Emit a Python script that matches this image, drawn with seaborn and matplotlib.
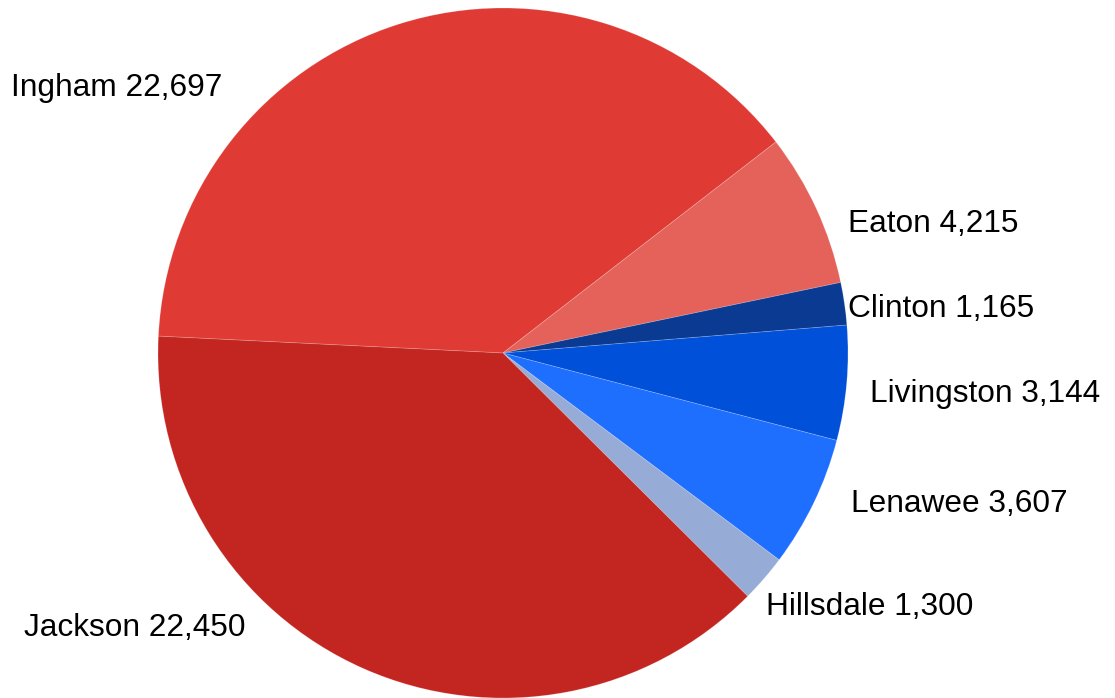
import matplotlib
matplotlib.use("Agg")
import matplotlib.pyplot as plt
import seaborn as sns

counties = ["Ingham", "Eaton", "Clinton", "Livingston", "Lenawee", "Hillsdale", "Jackson"]
values = [22697, 4215, 1165, 3144, 3607, 1300, 22450]
colors = ["#DF3A33", "#E5625B", "#0A3A91", "#0050D9", "#1F6FFF", "#96ACD6", "#C32520"]
# label anchor (left x, baseline y) in pixels of the 1115x698 canvas
label_px = [(11, 96), (848, 232), (848, 317), (870, 402), (851, 512), (766, 615), (24, 636)]

sns.set_theme(style="white")
plt.rcParams['font.family'] = ['Liberation Sans', 'DejaVu Sans']

W, H = 1115, 698
cx, cy, R = 503, 353, 345
fig = plt.figure(figsize=(W / 100, H / 100), dpi=100)
ax = fig.add_axes([0, 0, 1, 1])
ax.pie(values, colors=colors, startangle=177.2, counterclock=False,
       radius=1.0, center=(0, 0),
       wedgeprops=dict(edgecolor=(1, 1, 1, 0.2), linewidth=0.6))
ax.set_xlim(-cx / R, (W - cx) / R)
ax.set_ylim(-(H - cy) / R, cy / R)
ax.set_aspect('auto')
ax.axis('off')

for name, val, (px, py) in zip(counties, values, label_px):
    ax.text(px / W, 1 - py / H, f"{name} {val:,}", transform=ax.transAxes,
            ha='left', va='baseline', fontsize=22.8, color='#000000')

fig.savefig("out.png", dpi=100, facecolor='white')
